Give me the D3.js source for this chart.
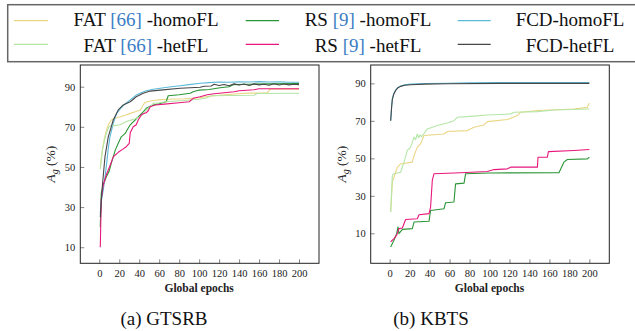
<!DOCTYPE html>
<html><head><meta charset="utf-8">
<script src="https://cdn.jsdelivr.net/npm/d3@7"></script>
<style>body{margin:0;background:#fff}svg{display:block}</style>
</head><body>
<script>
// ---- data ----
const xTicks = [0,20,40,60,80,100,120,140,160,180,200];
const yTicks = [10,30,50,70,90];
const seriesNames = ["FAT-homoFL","RS-homoFL","FCD-homoFL","FAT-hetFL","RS-hetFL","FCD-hetFL"];
const seriesColors = ["#ead684","#2a9636","#5cbad8","#b4e6a6","#e8177c","#474747"];
const captions = ["(a) GTSRB","(b) KBTS"];

// GTSRB
const fatHomoG = [[1,50],[3,58],[5,64],[7,68],[9,71],[12,73.4],[16,74.3],[21,75],[26,75.8],[31,76.7],[36,77.5],[41,78.4],[43,80],[45,81.7],[48,82.5],[53,83],[58,83.4],[70,83.7],[85,84],[100,84.5],[110,85.2],[125,86],[140,86.5],[150,86.8],[168,86.8],[171,88.7],[200,88.8]];
const fatHetG = [[1,49],[3,58],[6,65],[8,68],[10,70.4],[15,70.6],[21,71],[27,72.6],[34,73.7],[41,75],[44,76.5],[47,78.4],[51,80],[54,81.7],[60,82],[67,82.5],[81,83],[100,83.7],[108,84.5],[112,85.5],[130,85.6],[155,85.7],[158,86.6],[200,86.7]];
const rsHomoG = [[1,20],[2,37],[4,41],[7,45],[10,48],[12,51.8],[14,55],[16,58.4],[19,61.8],[22,65],[26,66.7],[28,68.5],[31,71],[34,72.5],[36,73.4],[39,75],[41,76],[44,77.5],[47,79.2],[51,80.3],[54,80.9],[60,81.5],[67,82.5],[69,85.5],[80,86],[91,86.7],[94,87.5],[100,88.3],[110,88.6],[121,89.5],[130,90],[134,91],[150,91.2],[170,91.4],[200,91.5]];
const rsHetG = [[1,10],[2,34],[4,41],[7,46],[11,51],[14,55],[19,57.3],[24,59],[27,60.1],[30,61.8],[31,67],[34,70],[37,71],[39,73.4],[42,75.9],[44,76.5],[47,77],[49,78],[51,80],[56,80.9],[65,81.3],[80,82],[90,82.5],[94,84.2],[101,85],[108,86],[115,86.5],[125,87],[135,87.5],[140,88],[155,88.5],[160,89],[200,89]];
const fcdHomoG = [[1,27],[2,33],[4,38.5],[6,46],[7.4,51.8],[9,59],[10.7,65],[14,71.7],[17.4,76.7],[22,79.5],[26,81.5],[31,83.4],[37,85.8],[42,87],[47,88],[54,88.7],[61,89.2],[70,89.8],[81,90.5],[90,91],[101,91.7],[110,92],[120,92.3],[130,92.2],[140,92.4],[150,92.3],[160,92.5],[170,92.3],[180,92.4],[190,92.2],[200,92.2]];
const fcdHetG = [[1,25],[2,33],[3,40],[5.7,55],[9,65],[14,73.4],[19,78.4],[24,80.9],[31,82.5],[37,85],[44,86.7],[51,87.8],[61,88.3],[81,89.2],[101,89.7],[105,90.2],[112,90.3],[115,91.2],[120,90.6],[125,91.1],[130,90.5],[135,91.4],[140,90.8],[145,91.3],[150,90.6],[155,91.4],[160,90.9],[165,91.2],[170,90.7],[175,91.5],[180,90.8],[185,91.3],[190,90.9],[195,91.2],[200,91]];

// KBTS
const fatHomoK = [[1,21.4],[2.7,37.3],[6,42.6],[7.7,45.3],[11,47],[22.7,48],[24.4,51.5],[27.7,56],[31,57.7],[34.4,62.2],[54.4,63],[57.8,64.3],[77.8,64.8],[84.5,66.6],[94.5,67.8],[97.8,69.6],[117.9,70.7],[127.9,72.8],[131.2,74.6],[148,75.5],[184.6,76.3],[198,77.2],[200,79.5]];
const fatHetK = [[1,21.4],[2.7,40.9],[4.3,41.8],[11,42.6],[14.4,48],[17.7,54.2],[21,56],[24.4,61.3],[26,60],[27.7,63],[29,61],[30.5,62.5],[32,61.5],[34,63],[37.7,65.7],[47.7,67.5],[57.7,68.9],[64.4,70.1],[67.8,71.9],[81,72.4],[97.8,73.1],[121,73.7],[124.5,74.6],[148,74.9],[164.6,75.8],[200,76.3]];
const rsHomoK = [[1,2.7],[4.3,6.3],[7,9.8],[8.3,13.4],[9.3,9.8],[12.7,12.1],[22.7,12.5],[24.4,16],[39.4,16.4],[41,22.2],[54.4,23.1],[56,26.3],[64.4,26.7],[66,36.4],[74.5,36.8],[76.1,41.8],[100,42.2],[169.6,42.3],[174.6,48],[178,49.4],[198,49.7],[200,50.6]];
const rsHetK = [[1,5.4],[4.3,7.2],[7,9],[9.3,12.5],[12.7,12.8],[16,17.4],[27.7,17.8],[29.4,19.9],[39.4,20.5],[41,24],[42.7,38.2],[44.4,41.8],[71,42.3],[97.8,43],[104.5,44],[117.9,44.4],[121.2,45.3],[148,45.3],[148.6,50.6],[158,50.6],[159,53.6],[184.6,54.2],[200,54.7]];
const fcdHomoK = [[1,70.1],[2,78],[2.7,82],[4,84.5],[6,86.5],[8,87.8],[11,88.6],[15,89.2],[21,89.6],[35,89.9],[57.7,90.1],[80,90.3],[111,90.5],[150,90.5],[200,90.5]];
const fcdHetK = [[1,70.1],[2,77.5],[2.7,81.5],[4,84],[6,86.2],[8,87.5],[11,88.4],[15,89],[21,89.3],[35,89.6],[57.7,89.8],[111,90],[200,90]];

const gtsrbSeries = [fatHomoG, rsHomoG, fcdHomoG, fatHetG, rsHetG, fcdHetG];
const kbtsSeries  = [fatHomoK, rsHomoK, fcdHomoK, fatHetK, rsHetK, fcdHetK];

// ---- drawing ----
const W = 635, H = 331;
const svg = d3.select("body").append("svg").attr("width", W).attr("height", H);
const serif = "Liberation Serif, Times New Roman, serif";

function panel(left, right, top, bottom, yDomain, data, caption, capX) {
  const x = d3.scaleLinear().domain([-19, 220]).range([left, right]);
  const y = d3.scaleLinear().domain(yDomain).range([bottom, top]);
  const g = svg.append("g");
  const clipId = "clip" + Math.round(left);
  g.append("clipPath").attr("id", clipId).append("rect")
    .attr("x", left).attr("y", top).attr("width", right - left).attr("height", bottom - top);

  const xAxis = d3.axisBottom(x).tickValues(xTicks).tickSize(4).tickPadding(2);
  const gx = g.append("g").attr("transform", `translate(0,${bottom})`).call(xAxis);
  gx.select(".domain").remove();
  gx.selectAll(".tick line").attr("y2", -4).attr("stroke", "#888");
  gx.selectAll(".tick text").attr("y", 14).attr("dy", 0).attr("font-family", serif).attr("font-size", 10.5).attr("fill", "#222");

  const yAxis = d3.axisLeft(y).tickValues(yTicks).tickSize(4);
  const gy = g.append("g").attr("transform", `translate(${left},0)`).call(yAxis);
  gy.select(".domain").remove();
  gy.selectAll(".tick line").attr("x2", 4).attr("stroke", "#888");
  gy.selectAll(".tick text").attr("x", -5).attr("dy", "0.34em").attr("font-family", serif).attr("font-size", 10.5).attr("fill", "#222");

  const line = d3.line().x(d => x(d[0])).y(d => y(d[1]));
  const lines = g.append("g").attr("clip-path", `url(#${clipId})`);
  data.forEach((s, i) => {
    lines.append("path").datum(s).attr("d", line)
      .attr("fill", "none").attr("stroke", seriesColors[i]).attr("stroke-width", 1.1)
      .attr("stroke-linejoin", "round");
  });

  g.append("rect").attr("x", left).attr("y", top).attr("width", right - left).attr("height", bottom - top)
    .attr("fill", "none").attr("stroke", "#222").attr("stroke-width", 1);

  g.append("text").attr("x", x(100)).attr("y", 292).attr("text-anchor", "middle")
    .attr("font-family", serif).attr("font-weight", "bold").attr("font-size", 11.5).attr("fill", "#222")
    .text("Global epochs");

  const yl = g.append("text").attr("transform", `translate(${left - 25},${(top + bottom) / 2}) rotate(-90)`)
    .attr("text-anchor", "middle").attr("font-family", serif).attr("font-size", 13.5).attr("fill", "#222");
  yl.append("tspan").attr("font-style", "italic").text("A");
  yl.append("tspan").attr("font-style", "italic").attr("font-size", 10).attr("dy", 3).text("g");
  yl.append("tspan").attr("dy", -3).text(" (%)");

  svg.append("text").attr("x", capX).attr("y", 325).attr("text-anchor", "middle")
    .attr("font-family", serif).attr("font-size", 19).attr("fill", "#111").text(caption);
}

panel(80.3, 319, 65, 263.3, [2, 100.8], gtsrbSeries, captions[0], 164);
panel(370.7, 609.3, 65, 263.3, [-6, 99.8], kbtsSeries, captions[1], 431);

// legend
const lg = svg.append("g");
lg.append("rect").attr("x", 7.7).attr("y", 4.7).attr("width", 640).attr("height", 57)
  .attr("fill", "#fff").attr("stroke", "#666").attr("stroke-width", 1.5);
const legendLabels = [
  [["FAT ",null],["[66]","#3b7dc4"],[" -homoFL",null]],
  [["RS ",null],["[9]","#3b7dc4"],[" -homoFL",null]],
  [["FCD-homoFL",null]],
  [["FAT ",null],["[66]","#3b7dc4"],[" -hetFL",null]],
  [["RS ",null],["[9]","#3b7dc4"],[" -hetFL",null]],
  [["FCD-hetFL",null]]
];
const colLine = [[14,48],[245.7,279],[457.7,490.7]];
const colText = [146, 368, 570];
const rowLineY = [20.7, 44.3];
const rowTextY = [26, 51.5];
legendLabels.forEach((parts, i) => {
  const col = i % 3, row = Math.floor(i / 3);
  lg.append("line").attr("x1", colLine[col][0]).attr("x2", colLine[col][1])
    .attr("y1", rowLineY[row]).attr("y2", rowLineY[row])
    .attr("stroke", seriesColors[i]).attr("stroke-width", 1.2);
  const t = lg.append("text").attr("x", colText[col]).attr("y", rowTextY[row]).attr("text-anchor", "middle")
    .attr("font-family", serif).attr("font-size", 19).attr("fill", "#111");
  parts.forEach(p => { const ts = t.append("tspan").text(p[0]); if (p[1]) ts.attr("fill", p[1]); });
});
</script>
</body></html>
